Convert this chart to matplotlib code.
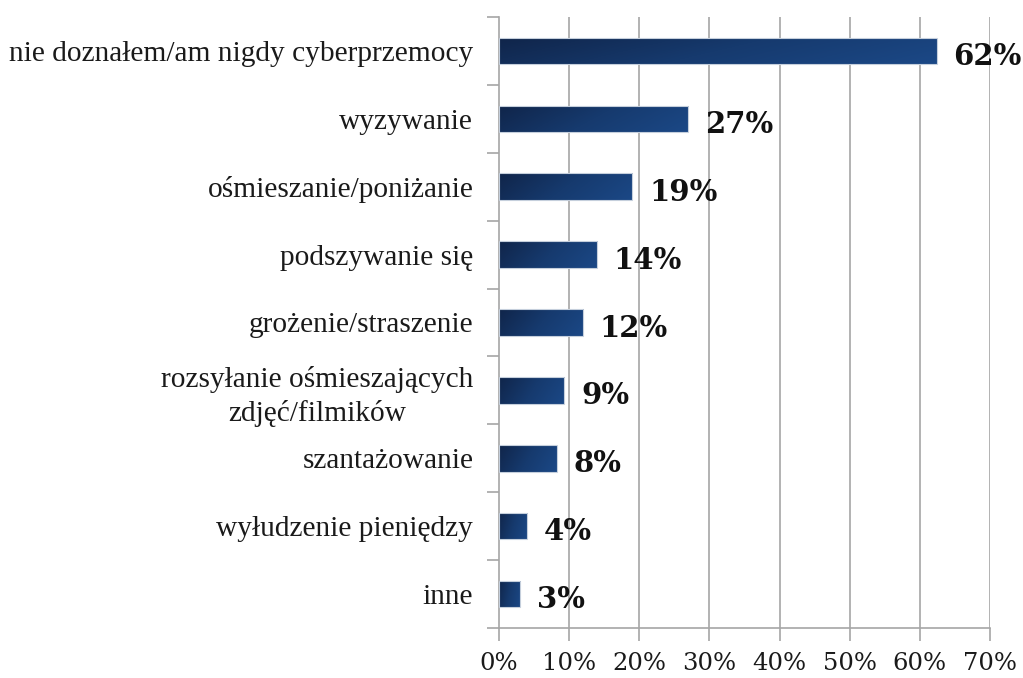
import numpy as np
import matplotlib
matplotlib.use("Agg")
import matplotlib.pyplot as plt
from matplotlib.colors import LinearSegmentedColormap
from matplotlib.patches import Rectangle

categories = [
    "nie doznałem/am nigdy cyberprzemocy",
    "wyzywanie",
    "ośmieszanie/poniżanie",
    "podszywanie się",
    "grożenie/straszenie",
    "rozsyłanie ośmieszających\nzdjęć/filmików",
    "szantażowanie",
    "wyłudzenie pieniędzy",
    "inne",
]
values = [62.4, 27, 19, 14, 12, 9.3, 8.2, 4, 3]
xticks = [0, 10, 20, 30, 40, 50, 60, 70]

fig = plt.figure(figsize=(10.23, 6.78), dpi=100)
ax = fig.add_axes([499 / 1023, 1 - 628 / 678, 491 / 1023, 611 / 678])

grid_c = "#a6a6a6"
n = len(categories)
ypos = np.arange(n)
bar_h = 0.39

ax.set_xlim(0, 70)
ax.set_ylim(n - 0.5, -0.5)

for x in xticks[1:]:
    ax.axvline(x, color=grid_c, lw=1.2, zorder=0)

cmap = LinearSegmentedColormap.from_list("bar", ["#10254a", "#163a6e", "#1b4886"])
gx, gy = np.meshgrid(np.linspace(0, 1, 200), np.linspace(0, 1, 20))
grad = 0.8 * gx + 0.2 * gy

bars = ax.barh(ypos, values, height=bar_h, color="none", edgecolor="#c5cfdc", lw=0.8, zorder=3)
for b, v in zip(bars, values):
    y0 = b.get_y()
    im = ax.imshow(grad, cmap=cmap, aspect="auto", extent=(0, v, y0 + bar_h, y0),
                   zorder=2, interpolation="bilinear")
    im.set_clip_path(Rectangle((0, y0), v, bar_h, transform=ax.transData))
    ax.annotate(f"{round(v)}%", (v, y0 + bar_h / 2), xytext=(12, -4), textcoords="offset points",
                va="center", ha="left", fontsize=21, fontweight="bold",
                family="DejaVu Serif", color="#111111")

ax.set_xticks(xticks)
ax.set_xticklabels([f"{t}%" for t in xticks], family="DejaVu Serif", fontsize=17.5, color="#1a1a1a")
ax.set_yticks(np.arange(-0.5, n, 1), minor=False)
ax.set_yticklabels([])
ax.set_yticks(ypos, minor=True)
ax.set_yticklabels(categories, minor=True, family="Liberation Serif", fontsize=21.2, color="#1a1a1a")
for lab in ax.get_yticklabels(minor=True):
    lab.set_multialignment("center")
    lab.set_linespacing(1.3)

ax.tick_params(axis="y", which="major", length=9, width=1.2, color=grid_c, direction="out")
ax.tick_params(axis="y", which="minor", length=0, pad=18.5)
ax.tick_params(axis="x", length=9, width=1.2, color=grid_c, direction="out", pad=8)

for s in ["top", "right"]:
    ax.spines[s].set_visible(False)
for s in ["left", "bottom"]:
    ax.spines[s].set_color(grid_c)
    ax.spines[s].set_linewidth(1.2)

fig.savefig("out.png", dpi=100)
